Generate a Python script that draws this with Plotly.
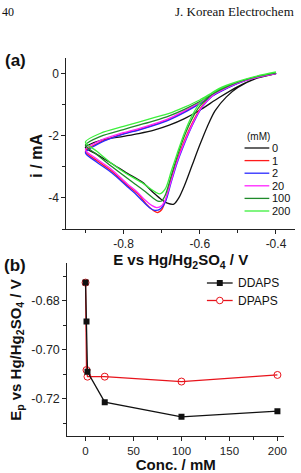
import plotly.graph_objects as go

W, H = 301, 473

# ---------------- Panel (a) data: cyclic voltammograms ----------------
conc_labels = ["0", "1", "2", "20", "100", "200"]
cv_colors = ["#111111", "#ff1a1a", "#2a2aff", "#ff22ff", "#1f8a2a", "#3cf03c"]

# lower (cathodic) branch, -0.4 -> -0.9 V
e_low_0 = [-0.40, -0.45, -0.50, -0.53, -0.56, -0.58, -0.60, -0.62, -0.64, -0.655, -0.668, -0.685, -0.70, -0.72, -0.75, -0.79, -0.83, -0.87, -0.90]
i_low_0 = [0.00, -0.15, -0.45, -0.75, -1.20, -1.70, -2.30, -2.95, -3.60, -4.00, -4.20, -4.17, -4.06, -3.85, -3.50, -3.21, -2.90, -2.60, -2.38]
e_low_1 = [-0.40, -0.45, -0.50, -0.55, -0.58, -0.60, -0.62, -0.64, -0.66, -0.675, -0.69, -0.70, -0.71, -0.72, -0.74, -0.76, -0.79, -0.83, -0.87, -0.90]
i_low_1 = [0.00, -0.12, -0.30, -0.55, -0.85, -1.15, -1.60, -2.15, -2.80, -3.40, -4.10, -4.38, -4.47, -4.42, -4.20, -3.90, -3.60, -3.15, -2.80, -2.50]
e_low_2 = [-0.40, -0.45, -0.50, -0.55, -0.58, -0.60, -0.62, -0.64, -0.66, -0.675, -0.69, -0.705, -0.718, -0.73, -0.75, -0.77, -0.79, -0.83, -0.87, -0.90]
i_low_2 = [0.00, -0.12, -0.30, -0.57, -0.88, -1.20, -1.68, -2.25, -2.90, -3.50, -4.12, -4.37, -4.40, -4.33, -4.10, -3.85, -3.64, -3.20, -2.85, -2.55]
e_low_20 = [-0.40, -0.45, -0.50, -0.55, -0.58, -0.60, -0.62, -0.64, -0.66, -0.675, -0.69, -0.70, -0.713, -0.725, -0.745, -0.765, -0.79, -0.83, -0.87, -0.90]
i_low_20 = [0.00, -0.12, -0.30, -0.56, -0.87, -1.18, -1.65, -2.20, -2.85, -3.45, -4.05, -4.25, -4.31, -4.25, -4.05, -3.80, -3.55, -3.10, -2.75, -2.45]
e_low_100 = [-0.40, -0.45, -0.50, -0.55, -0.58, -0.60, -0.62, -0.64, -0.66, -0.675, -0.69, -0.70, -0.71, -0.725, -0.745, -0.77, -0.79, -0.83, -0.87, -0.90]
i_low_100 = [0.02, -0.10, -0.28, -0.52, -0.80, -1.05, -1.45, -2.00, -2.70, -3.30, -3.90, -4.10, -4.10, -3.98, -3.78, -3.55, -3.37, -3.00, -2.60, -2.30]
e_low_200 = [-0.40, -0.45, -0.50, -0.55, -0.58, -0.60, -0.62, -0.64, -0.66, -0.675, -0.69, -0.705, -0.715, -0.73, -0.75, -0.77, -0.79, -0.83, -0.87, -0.90]
i_low_200 = [0.05, -0.08, -0.25, -0.48, -0.72, -0.95, -1.35, -1.90, -2.60, -3.15, -3.70, -3.87, -3.82, -3.70, -3.52, -3.38, -3.24, -2.90, -2.50, -2.20]

# upper (anodic) branch, -0.9 -> -0.4 V
e_up = [-0.90, -0.86, -0.80, -0.76, -0.72, -0.68, -0.64, -0.60, -0.55, -0.50, -0.45, -0.40]
i_up_0 = [-2.38, -2.15, -2.02, -1.93, -1.82, -1.66, -1.45, -1.18, -0.78, -0.42, -0.15, 0.00]
i_up_1 = [-2.50, -2.20, -1.93, -1.80, -1.65, -1.47, -1.23, -0.95, -0.60, -0.31, -0.10, 0.00]
i_up_2 = [-2.55, -2.22, -1.95, -1.82, -1.67, -1.49, -1.25, -0.97, -0.61, -0.32, -0.11, 0.00]
i_up_20 = [-2.45, -2.15, -1.90, -1.77, -1.62, -1.44, -1.20, -0.93, -0.58, -0.30, -0.10, 0.00]
i_up_100 = [-2.30, -2.02, -1.80, -1.66, -1.52, -1.36, -1.15, -0.90, -0.55, -0.28, -0.10, 0.02]
i_up_200 = [-2.20, -1.92, -1.70, -1.56, -1.42, -1.28, -1.08, -0.85, -0.50, -0.25, -0.08, 0.05]

cv_low_e = [e_low_0, e_low_1, e_low_2, e_low_20, e_low_100, e_low_200]
cv_low_i = [i_low_0, i_low_1, i_low_2, i_low_20, i_low_100, i_low_200]
cv_up_i = [i_up_0, i_up_1, i_up_2, i_up_20, i_up_100, i_up_200]

a_xtick_vals = [-0.8, -0.6, -0.4]
a_xtick_text = ["-0.8", "-0.6", "-0.4"]
a_ytick_vals = [-4, -2, 0]
a_ytick_text = ["-4", "-2", "0"]

# ---------------- Panel (b) data: peak potentials ----------------
conc_b = [0, 1, 2, 20, 100, 200]
ep_ddaps = [-0.6725, -0.6884, -0.7089, -0.7213, -0.7273, -0.7250]
ep_dpaps = [-0.6725, -0.7082, -0.7109, -0.7109, -0.7129, -0.7102]
b_xtick_vals = [0, 50, 100, 150, 200]
b_xtick_text = ["0", "50", "100", "150", "200"]
b_ytick_vals = [-0.72, -0.70, -0.68]
b_ytick_text = ["-0.72", "-0.70", "-0.68"]

SANS = "Liberation Sans, Arial, sans-serif"
SERIF = "Liberation Serif, Times New Roman, serif"
AX = "#222222"


def px(x):
    return x / W


def py(y):
    return 1 - y / H


fig = go.Figure()

for k in range(len(conc_labels)):
    xs = cv_low_e[k] + e_up[1:]
    ys = cv_low_i[k] + cv_up_i[k][1:]
    fig.add_trace(go.Scatter(x=xs, y=ys, mode="lines", line=dict(color=cv_colors[k], width=1.3, shape="spline", smoothing=0.8),
                             xaxis="x", yaxis="y", showlegend=False, hoverinfo="skip"))

fig.add_trace(go.Scatter(x=conc_b, y=ep_dpaps, mode="lines+markers",
                         line=dict(color="#e8141c", width=1.3),
                         marker=dict(symbol="circle-open", size=7, color="#e8141c", line=dict(width=1)),
                         xaxis="x2", yaxis="y2", showlegend=False))
fig.add_trace(go.Scatter(x=conc_b, y=ep_ddaps, mode="lines+markers",
                         line=dict(color="#111111", width=1.3),
                         marker=dict(symbol="square", size=6, color="#111111"),
                         xaxis="x2", yaxis="y2", showlegend=False))


def axis_common(size):
    return dict(showline=True, linecolor=AX, linewidth=1, mirror=False, ticks="outside",
                ticklen=4, tickwidth=1, tickcolor=AX, showgrid=False, zeroline=False,
                tickfont=dict(family=SANS, size=size, color="#222"))


fig.update_layout(
    width=W, height=H, margin=dict(l=0, r=0, t=0, b=0),
    paper_bgcolor="white", plot_bgcolor="white", showlegend=False,
    xaxis=dict(domain=[px(67), px(298)], range=[-0.95, -0.35], anchor="y",
               tickvals=a_xtick_vals, ticktext=a_xtick_text,
               title=dict(text="<b>E vs Hg/Hg<sub>2</sub>SO<sub>4</sub> / V</b>", standoff=1,
                          font=dict(family=SANS, size=15, color="#111")),
               minor=dict(ticks="outside", ticklen=3, tickcolor=AX, dtick=0.1, tick0=-0.9), **axis_common(12)),
    yaxis=dict(domain=[py(229), py(58)], range=[-5, 0.5], anchor="x",
               tickvals=a_ytick_vals, ticktext=a_ytick_text,
               minor=dict(ticks="outside", ticklen=3, tickcolor=AX, dtick=1, tick0=-5), **axis_common(12)),
    xaxis2=dict(domain=[px(68), px(287)], range=[-19, 207], anchor="y2",
                tickvals=b_xtick_vals, ticktext=b_xtick_text,
                title=dict(text="<b>Conc. / mM</b>", standoff=2,
                           font=dict(family=SANS, size=15, color="#111")),
                minor=dict(ticks="outside", ticklen=3, tickcolor=AX, dtick=25, tick0=0), **axis_common(11.5)),
    yaxis2=dict(domain=[py(435.7), py(263)], range=[-0.735, -0.6645], anchor="x2",
                tickvals=b_ytick_vals, ticktext=b_ytick_text,
                minor=dict(ticks="outside", ticklen=3, tickcolor=AX, dtick=0.01, tick0=-0.73), **axis_common(12.5)),
)

ann = []


def text(x, y, s, size, bold=False, family=SANS, xanchor="center", angle=0, color="#111"):
    ann.append(dict(x=px(x), y=py(y), xref="paper", yref="paper", text=(f"<b>{s}</b>" if bold else s),
                    showarrow=False, xanchor=xanchor, yanchor="middle", textangle=angle,
                    font=dict(family=family, size=size, color=color)))


# header
text(0, 12, "40", 12, family=SERIF, xanchor="left")
text(175, 12, "J. Korean Electrochem", 13, family=SERIF, xanchor="left")
# panel labels
text(3, 60, "(a)", 17, bold=True, xanchor="left")
text(2, 265, "(b)", 17, bold=True, xanchor="left")
# axis titles
text(37, 156, "i / mA", 16, bold=True, angle=-90)
text(16, 350, "E<sub>p</sub> vs Hg/Hg<sub>2</sub>SO<sub>4</sub> / V", 15, bold=True, angle=-90)

# legend (a)
shapes = []
text(247, 137, "(mM)", 10, xanchor="left")
leg_a_y = [148, 160.6, 173.2, 185.8, 198.4, 211]
for k, lab in enumerate(conc_labels):
    shapes.append(dict(type="line", xref="paper", yref="paper", x0=px(247), x1=px(272), y0=py(leg_a_y[k]), y1=py(leg_a_y[k]),
                       line=dict(color=cv_colors[k], width=1.3)))
    text(273, leg_a_y[k], lab, 11, xanchor="left")

# legend (b)
shapes.append(dict(type="line", xref="paper", yref="paper", x0=px(209), x1=px(235), y0=py(283), y1=py(283),
                   line=dict(color="#111", width=1.3)))
shapes.append(dict(type="rect", xref="paper", yref="paper", x0=px(219), x1=px(225), y0=py(286), y1=py(280),
                   fillcolor="#111", line=dict(width=0)))
shapes.append(dict(type="line", xref="paper", yref="paper", x0=px(209), x1=px(235), y0=py(300.5), y1=py(300.5),
                   line=dict(color="#e8141c", width=1.3)))
shapes.append(dict(type="circle", xref="paper", yref="paper", x0=px(218.7), x1=px(225.3), y0=py(303.8), y1=py(297.2),
                   fillcolor="white", line=dict(color="#e8141c", width=1)))
text(238, 283, "DDAPS", 12, xanchor="left")
text(238, 300.5, "DPAPS", 12, xanchor="left")

fig.update_layout(annotations=ann, shapes=shapes)
fig.write_html("out.html")
